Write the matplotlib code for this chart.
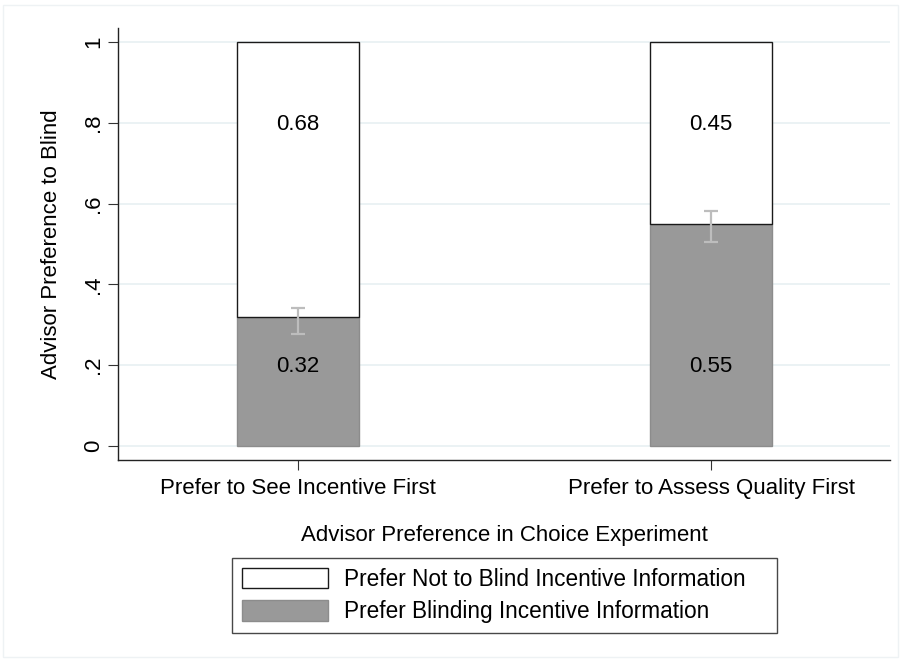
import matplotlib
matplotlib.use("Agg")
import matplotlib.pyplot as plt
import numpy as np
from matplotlib.patches import Rectangle

plt.rcParams['font.family'] = ['Liberation Sans', 'DejaVu Sans']

# shares of advisors by choice-experiment preference
groups = ["Prefer to See Incentive First", "Prefer to Assess Quality First"]
blind_share = [0.32, 0.55]
not_blind_share = [0.68, 0.45]
ci_low = [0.278, 0.505]
ci_high = [0.342, 0.582]

series_names = ["Prefer Not to Blind Incentive Information",
                "Prefer Blinding Incentive Information"]

W, H = 901, 660
fig = plt.figure(figsize=(W / 100, H / 100), dpi=100)
ax = fig.add_axes([118 / W, 1 - 460 / H, (890 - 118) / W, (460 - 28) / H])

x = np.arange(len(groups))
width = 0.295
blind = np.array(blind_share)
notb = np.array(not_blind_share)

b1 = ax.bar(x, blind, width, color="#999999", edgecolor="#8c8c8c", linewidth=1.0,
            zorder=3, label=series_names[1])
b2 = ax.bar(x, notb, width, bottom=blind, color="white", edgecolor="#1a1a1a",
            linewidth=1.0, zorder=3, label=series_names[0])

# confidence interval caps
ax.errorbar(x, blind, yerr=[blind - np.array(ci_low), np.array(ci_high) - blind],
            fmt="none", ecolor="#bdbdbd", elinewidth=1.6, capsize=4.8,
            capthick=1.6, zorder=4)

for xi, lo, hi in zip(x, blind, notb):
    ax.text(xi, 0.196, f"{lo:.2f}", ha="center", va="center", fontsize=16, zorder=5)
    ax.text(xi, 0.795, f"{hi:.2f}", ha="center", va="center", fontsize=16, zorder=5)

ax.set_xlim(-0.436, 1.433)
ax.set_ylim(-0.035, 1.035)
ax.set_yticks([0, 0.2, 0.4, 0.6, 0.8, 1.0])
ax.set_yticklabels(["0", ".2", ".4", ".6", ".8", "1"], rotation=90, va="center")
ax.set_xticks(x)
ax.set_xticklabels(groups)
ax.tick_params(axis="both", labelsize=16, length=7, width=0.8, color="#333333")
ax.tick_params(axis="x", pad=6)
ax.tick_params(axis="y", pad=3)

ax.grid(axis="y", color="#e8f0f2", linewidth=1.2, zorder=0)
ax.set_axisbelow(True)
for side in ["top", "right"]:
    ax.spines[side].set_visible(False)
for side in ["left", "bottom"]:
    ax.spines[side].set_linewidth(1.0)
    ax.spines[side].set_color("#222222")

ax.set_ylabel("Advisor Preference to Blind", fontsize=16, labelpad=15)
ax.set_xlabel("Advisor Preference in Choice Experiment", fontsize=16, labelpad=19)

leg = fig.legend([b2, b1], series_names, loc="center", mode="expand",
                 bbox_to_anchor=(232 / W, 1 - 632 / H, 545 / W, 73 / H), fontsize=16.3,
                 frameon=True, fancybox=False, edgecolor="#1a1a1a",
                 handlelength=3.8, handleheight=1.0, handletextpad=0.68,
                 borderpad=0.45, labelspacing=0.42, borderaxespad=0)
leg.get_frame().set_linewidth(1.0)

# faint outline around the graph region
fig.patches.append(Rectangle((3 / W, 3 / H), 1 - 6 / W, 1 - 8 / H,
                             transform=fig.transFigure, fill=False,
                             edgecolor="#eef2f4", linewidth=1.0))

fig.savefig("out.png", dpi=100)
